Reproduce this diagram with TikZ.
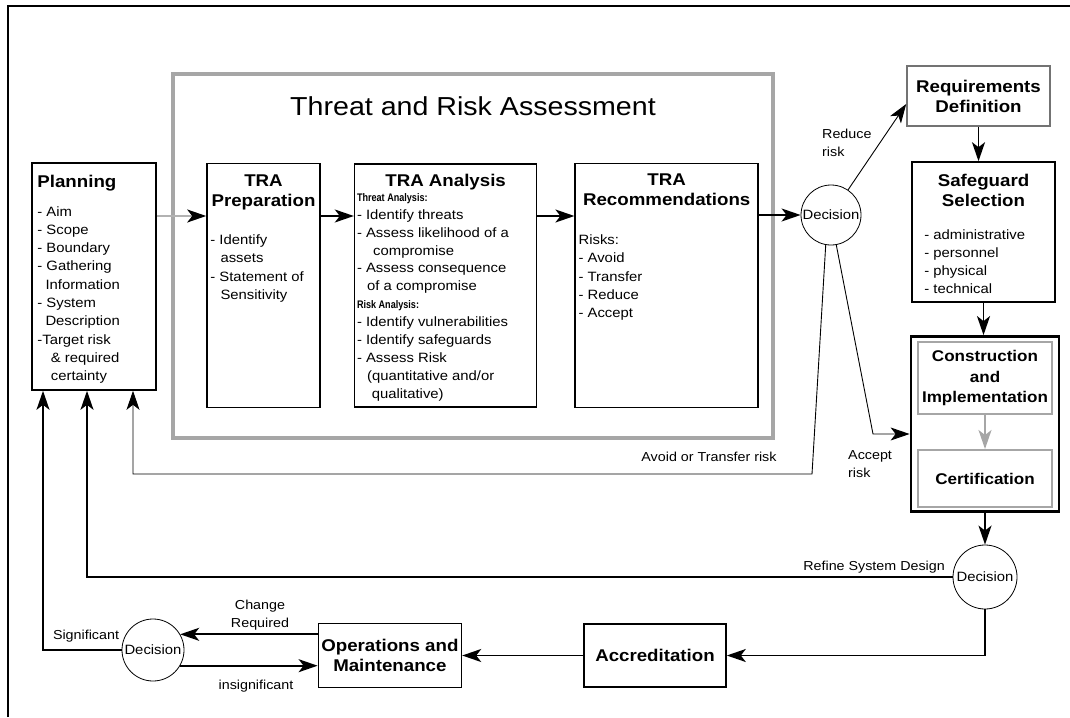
\documentclass[tikz,border=0pt]{standalone}
\usepackage{fontspec}
\setmainfont{Liberation Sans}[FakeStretch=1.1]
\usetikzlibrary{arrows.meta, positioning, calc}
\newcommand{\minorhead}[1]{\scalebox{0.75}[1]{\bfseries\fontsize{11}{12}\selectfont #1}}

\begin{document}
\begin{tikzpicture}[
    x=1pt, y=-1pt,
    font=\fontsize{13.5}{18.3}\selectfont,
    box/.style={rectangle, draw, line width=1.6pt, inner sep=0pt},
    graybox/.style={rectangle, draw=gray!70, line width=#1, inner sep=0pt},
    decision/.style={circle, draw, line width=0.8pt, minimum size=#1, inner sep=0pt, font=\fontsize{13.5}{14}\selectfont},
    heading/.style={font=\bfseries\fontsize{17}{20}\selectfont, align=center, inner sep=0pt},
    items/.style={align=left, inner sep=0pt},
    lbl/.style={font=\fontsize{13}{18}\selectfont, inner sep=0pt},
    flow/.style={-{Stealth[length=19pt, width=13pt, inset=5pt]}, line width=1.8pt},
    thinflow/.style={-{Stealth[length=19pt, width=13pt, inset=5pt]}, line width=0.9pt},
]
    \useasboundingbox (0,0) rectangle (1070,717);
    \draw[line width=1.2pt] (8,717) -- (8,6) -- (1070,6);

    % Threat and Risk Assessment frame
    \node[graybox=4pt, minimum width=600pt, minimum height=364pt] (tra) at (473,256) {};
    \node[font=\fontsize{26}{30}\selectfont] (tratitle) at (473,106) {Threat and Risk Assessment};

    \node[box, minimum width=124pt, minimum height=227pt] (planning) at (94,276.5) {};
    \node[items, anchor=north west] (plantext) at ([xshift=6pt, yshift=-13pt]planning.north west)
        {\textbf{\fontsize{17}{20}\selectfont Planning}\\[10pt]- Aim\\- Scope\\- Boundary\\- Gathering\\\hspace*{0.6em}Information\\- System\\\hspace*{0.6em}Description\\-Target risk\\\hspace*{1em}\& required\\\hspace*{1em}certainty};

    \node[box, minimum width=113pt, minimum height=244pt] (prep) at (263.5,285.5) {};
    \node[heading, anchor=north] (prephead) at ([yshift=-12pt]prep.north) {TRA\\Preparation};
    \node[items, anchor=north west] (preptext) at ([xshift=4pt, yshift=-72pt]prep.north west)
        {- Identify\\\hspace*{0.75em}assets\\- Statement of\\\hspace*{0.75em}Sensitivity};

    \node[box, minimum width=182pt, minimum height=243pt, right=33pt of prep] (anal) {};
    \node[heading, anchor=north] (analhead) at ([yshift=-11pt]anal.north) {TRA Analysis};
    \node[items, anchor=north west, font=\fontsize{13.5}{17.9}\selectfont] (analtext) at ([xshift=3pt, yshift=-30pt]anal.north west)
        {\minorhead{Threat Analysis:}\\- Identify threats\\- Assess likelihood of a\\\hspace*{1.2em}compromise\\- Assess consequence\\\hspace*{0.75em}of a compromise\\\minorhead{Risk Analysis:}\\- Identify vulnerabilities\\- Identify safeguards\\- Assess Risk\\\hspace*{0.75em}(quantitative and/or\\\hspace*{1.1em}qualitative)};

    \node[box, minimum width=183pt, minimum height=244pt, right=37pt of anal] (rec) {};
    \node[heading, anchor=north] (rechead) at ([yshift=-11pt]rec.north) {TRA\\Recommendations};
    \node[items, anchor=north west] (rectext) at ([xshift=4pt, yshift=-72pt]rec.north west)
        {Risks:\\- Avoid\\- Transfer\\- Reduce\\- Accept};

    \node[decision=60pt] (dec1) at (831,215) {Decision};

    % right column
    \node[box, draw=black!55, heading, minimum width=143pt, minimum height=60pt] (req) at (978.5,96) {Requirements\\Definition};
    \node[box, minimum width=143pt, minimum height=140pt] (sg) at (983.5,232) {};
    \node[heading, anchor=north] (sghead) at ([yshift=-13pt]sg.north) {Safeguard\\Selection};
    \node[items, anchor=north west, font=\fontsize{13.5}{18}\selectfont] (sgtext) at ([xshift=13pt, yshift=-68pt]sg.north west)
        {- administrative\\- personnel\\- physical\\- technical};

    \node[box, line width=2.8pt, minimum width=148pt, minimum height=175pt] (cons) at (985,424) {};
    \node[graybox=2pt, minimum width=134pt, minimum height=72pt, font=\bfseries\fontsize{15.5}{20.5}\selectfont, align=center] (impl) at (985,378) {Construction\\and\\Implementation};
    \node[graybox=2pt, minimum width=134pt, minimum height=57pt, font=\bfseries\fontsize{15.5}{20.5}\selectfont] (cert) at (985,478.5) {Certification};

    \node[decision=64pt] (dec2) at (985,577) {Decision};

    % bottom row
    \node[box, heading, minimum width=142pt, minimum height=63pt] (accr) at (655,655.5) {Accreditation};
    \node[box, heading, minimum width=143pt, minimum height=64pt, left=121pt of accr] (ops) {Operations and\\Maintenance};
    \node[decision=62pt] (dec3) at (153,650) {Decision};

    % connectors
    \coordinate (row) at (0,216);
    \draw[flow, draw=gray!60, -{Stealth[length=19pt, width=13pt, inset=5pt, color=black]}] (planning.east |- row) -- (prep.west |- row);
    \draw[flow] (prep.east |- row) -- (anal.west |- row);
    \draw[flow] (anal.east |- row) -- (rec.west |- row);
    \draw[flow] (rec.east |- dec1) -- (dec1);

    \draw[thinflow] (dec1) -- ([yshift=-8pt]req.west);
    \node[lbl, align=left, anchor=west] (reducelbl) at (822,143) {Reduce\\risk};
    \draw[flow] (req.south) -- (req.south |- sg.north);
    \draw[flow] (sg.south) -- (sg.south |- cons.north);
    \draw[flow, draw=gray!70, line width=1.5pt] (impl) -- (cert);

    \coordinate (acceptbend) at (873,434);
    \draw[thinflow] (dec1.-80) -- (acceptbend) -- (acceptbend -| cons.west);
    \node[lbl, align=left, anchor=west] (acceptlbl) at (848,464) {Accept\\risk};

    \coordinate (avoidbend) at (812,474);
    \coordinate (plan3) at (133,0);
    \draw[thinflow] (dec1.-100) -- (avoidbend) -- (avoidbend -| plan3) -- (plan3 |- planning.south);
    \node[lbl] (avoidlbl) at (709,457) {Avoid or Transfer risk};

    \draw[flow] (cons.south) -- (dec2);
    \coordinate (plan2) at (87,0);
    \draw[flow] (dec2.west) -- (dec2.west -| plan2) -- (plan2 |- planning.south);
    \node[lbl, anchor=east] (refinelbl) at (945,567) {Refine System Design};

    \draw[flow] (dec2.south) -- (dec2.south |- accr.east) -- (accr.east);
    \draw[flow] (accr.west) -- (ops.east |- accr.west);

    \draw[flow] (dec3.30 -| ops.west) -- (dec3.30);
    \node[lbl, align=center] (changelbl) at (260,615) {Change\\Required};
    \draw[flow] (dec3.-30) -- (dec3.-30 -| ops.west);
    \node[lbl] (insiglbl) at (256,686) {insignificant};
    \coordinate (plan1) at (43,0);
    \draw[flow] (dec3.west) -- (dec3.west -| plan1) -- (plan1 |- planning.south);
    \node[lbl] (siglbl) at (86,636) {Significant};
\end{tikzpicture}
\end{document}
